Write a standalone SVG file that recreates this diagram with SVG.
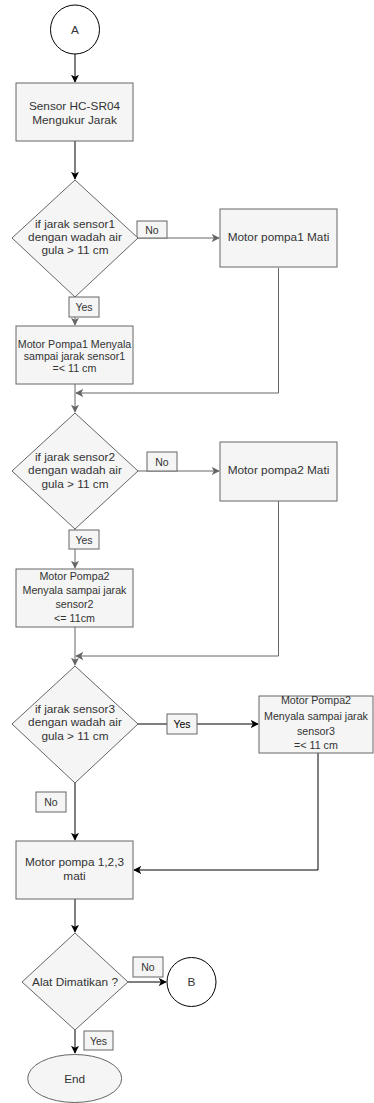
<svg xmlns="http://www.w3.org/2000/svg" width="374" height="1103" viewBox="0 0 374 1103">
<style>
.n{fill:#f5f5f5;stroke:#666666;stroke-width:1}
.c{fill:#ffffff;stroke:#000000;stroke-width:1}
.lb{fill:#f5f5f5;stroke:#666666;stroke-width:1}
.t{font-family:"Liberation Sans",Arial,sans-serif;font-size:11.8px;fill:#333333;text-anchor:middle;dominant-baseline:central}
.s{font-size:10.7px}
.l{font-size:10.5px}
.k{fill:#000000}
.eg{fill:none;stroke:#666666;stroke-width:1}
.eb{fill:none;stroke:#000000;stroke-width:1}
</style>
<defs>
<marker id="ab" viewBox="0 0 10 10" refX="9" refY="5" markerWidth="8" markerHeight="8" markerUnits="userSpaceOnUse" orient="auto"><path d="M0,0 L10,5 L0,10 L2.5,5 z" fill="#000000"/></marker>
<marker id="ag" viewBox="0 0 10 10" refX="9" refY="5" markerWidth="8" markerHeight="8" markerUnits="userSpaceOnUse" orient="auto"><path d="M0,0 L10,5 L0,10 L2.5,5 z" fill="#666666"/></marker>
</defs>
<g id="connectors">
<path class="eb" d="M75,54 V82" marker-end="url(#ab)"/>
<path class="eb" d="M75,141 V179" marker-end="url(#ab)"/>
<path class="eg" d="M138,238 H219" marker-end="url(#ag)"/>
<path class="eg" d="M75,297 V325" marker-end="url(#ag)"/>
<path class="eg" d="M278.5,268 V393 H76" marker-end="url(#ag)"/>
<path class="eg" d="M75,384 V412" marker-end="url(#ag)"/>
<path class="eg" d="M138,471 H219" marker-end="url(#ag)"/>
<path class="eg" d="M75,529 V568" marker-end="url(#ag)"/>
<path class="eg" d="M278.5,501 V656 H76" marker-end="url(#ag)"/>
<path class="eg" d="M75,627 V665" marker-end="url(#ag)"/>
<path class="eb" d="M138,724 H258" marker-end="url(#ab)"/>
<path class="eb" d="M75,783 V840" marker-end="url(#ab)"/>
<path class="eb" d="M318,753 V870 H134" marker-end="url(#ab)"/>
<path class="eb" d="M75,899 V932" marker-end="url(#ab)"/>
<path class="eb" d="M128,982 H166" marker-end="url(#ab)"/>
<path class="eb" d="M75,1030 V1053" marker-end="url(#ab)"/>
<rect class="lb" x="137" y="221" width="30" height="17"/><text class="t l" x="152" y="229.5">No</text>
<rect class="lb" x="69" y="297" width="30" height="20"/><text class="t l" x="84" y="307">Yes</text>
<rect class="lb" x="147" y="452" width="30" height="19"/><text class="t l" x="162" y="461.5">No</text>
<rect class="lb" x="69" y="530" width="30" height="19"/><text class="t l" x="84" y="539.5">Yes</text>
<rect class="lb" x="167" y="714" width="30" height="20"/><text class="t l k" x="182" y="724">Yes</text>
<rect class="lb" x="36" y="792" width="30" height="20"/><text class="t l" x="51" y="802">No</text>
<rect class="lb" x="133" y="957" width="30" height="20"/><text class="t l" x="148" y="967">No</text>
<rect class="lb" x="84" y="1031" width="29" height="19"/><text class="t l" x="98.5" y="1040.5">Yes</text>
</g>
<g id="nodeA"><circle class="c" cx="75" cy="29.5" r="24.5"/><text class="t" x="75" y="29.5">A</text></g>
<g id="sensor"><rect class="n" x="16" y="83" width="117" height="58"/><text class="t" x="74.5" y="106">Sensor HC-SR04</text><text class="t" x="74.5" y="120">Mengukur Jarak</text></g>
<g id="dec1"><polygon class="n" points="75,180 138,238 75,297 12,238"/><text class="t" x="75" y="224">if jarak sensor1</text><text class="t" x="75" y="237">dengan wadah air</text><text class="t" x="75" y="250">gula &gt; 11 cm</text></g>
<g id="mati1"><rect class="n" x="220" y="209" width="117" height="58"/><text class="t" x="278.5" y="237">Motor pompa1 Mati</text></g>
<g id="pompa1"><rect class="n" x="16" y="326" width="117" height="58"/><text class="t s" x="74.5" y="343.5">Motor Pompa1 Menyala</text><text class="t s" x="74.5" y="355.5">sampai jarak sensor1</text><text class="t s" x="74.5" y="367.5">=&lt; 11 cm</text></g>
<g id="dec2"><polygon class="n" points="75,413 138,471 75,529 12,471"/><text class="t" x="75" y="457">if jarak sensor2</text><text class="t" x="75" y="470">dengan wadah air</text><text class="t" x="75" y="483.5">gula &gt; 11 cm</text></g>
<g id="mati2"><rect class="n" x="220" y="442" width="117" height="59"/><text class="t" x="278.5" y="470">Motor pompa2 Mati</text></g>
<g id="pompa2"><rect class="n" x="16" y="569" width="117" height="58"/><text class="t s" x="74.5" y="575.5">Motor Pompa2</text><text class="t s" x="74.5" y="589.5">Menyala sampai jarak</text><text class="t s" x="74.5" y="604">sensor2</text><text class="t s" x="74.5" y="617.5">&lt;= 11cm</text></g>
<g id="dec3"><polygon class="n" points="75,666 138,724 75,783 12,724"/><text class="t" x="75" y="708.5">if jarak sensor3</text><text class="t" x="75" y="722">dengan wadah air</text><text class="t" x="75" y="736">gula &gt; 11 cm</text></g>
<g id="pompa3"><rect class="n" x="259" y="696" width="114" height="57"/><text class="t s" x="316" y="700">Motor Pompa2</text><text class="t s" x="316" y="715.5">Menyala sampai jarak</text><text class="t s" x="316" y="731">sensor3</text><text class="t s" x="316" y="744.5">=&lt; 11 cm</text></g>
<g id="mati123"><rect class="n" x="16" y="841" width="117" height="58"/><text class="t" x="74.5" y="862">Motor pompa 1,2,3</text><text class="t" x="74.5" y="876">mati</text></g>
<g id="dec4"><polygon class="n" points="75,933 128,982 75,1030 22,982"/><text class="t" x="75" y="982">Alat Dimatikan ?</text></g>
<g id="nodeB"><circle class="c" cx="191.5" cy="982" r="24.5"/><text class="t" x="191.5" y="982">B</text></g>
<g id="end"><ellipse class="n" cx="74.7" cy="1078.5" rx="47" ry="24"/><text class="t" x="74.7" y="1078.5">End</text></g>
</svg>
